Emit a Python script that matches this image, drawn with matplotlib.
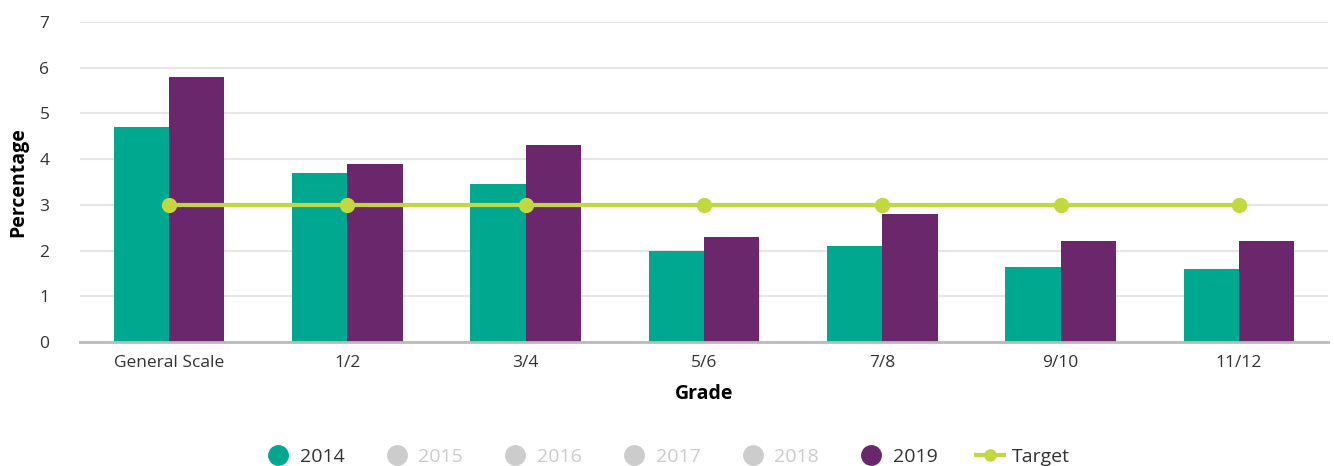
import matplotlib.pyplot as plt
import numpy as np
from matplotlib.lines import Line2D

# data
grades = ['General Scale', '1/2', '3/4', '5/6', '7/8', '9/10', '11/12']
pct_2014 = [4.7, 3.7, 3.45, 2.0, 2.1, 1.65, 1.6]
pct_2019 = [5.8, 3.9, 4.3, 2.3, 2.8, 2.2, 2.2]
target = [3, 3, 3, 3, 3, 3, 3]
legend_years = ['2014', '2015', '2016', '2017', '2018', '2019']

teal = '#00A88F'
purple = '#6B276B'
lime = '#C2D83F'
grey = '#CCCCCC'

plt.rcParams['font.family'] = ['Open Sans', 'DejaVu Sans']

fig = plt.figure(figsize=(13.34, 4.66), dpi=100)
ax = fig.add_axes([0.06, 0.266, 0.9355, 0.687])

x = np.arange(len(grades))
w = 0.31
ax.bar(x - w / 2, pct_2014, width=w, color=teal, zorder=2)
ax.bar(x + w / 2, pct_2019, width=w, color=purple, zorder=2)
ax.plot(x, target, color=lime, lw=3, marker='o', ms=10, zorder=3)

ax.set_xlim(-0.5, len(grades) - 0.5)
ax.set_ylim(0, 7)
ax.set_yticks(range(8))
ax.set_xticks(x)
ax.set_xticklabels(grades)
ax.tick_params(axis='both', length=0, labelsize=12.5, colors='#333333', pad=9)
ax.tick_params(axis='y', pad=22)
ax.grid(axis='y', color='#E6E6E6', lw=1.5, zorder=0)
for s in ['top', 'right', 'left']:
    ax.spines[s].set_visible(False)
ax.spines['bottom'].set_color('#BBBBBB')
ax.spines['bottom'].set_linewidth(2)

ax.set_ylabel('Percentage', fontsize=14, fontweight='bold', labelpad=8)
ax.set_xlabel('Grade', fontsize=14, fontweight='bold', labelpad=10)

# legend: only 2014 and 2019 are shown, other years greyed out
year_colors = {'2014': teal, '2019': purple}
handles = []
for yr in legend_years:
    handles.append(Line2D([], [], ls='', marker='o', ms=14,
                          color=year_colors.get(yr, grey)))
handles.append(Line2D([], [], color=lime, lw=3, marker='o', ms=8))
labels = legend_years + ['Target']
leg = fig.legend(handles, labels, loc='center', bbox_to_anchor=(0.5, 0.02),
                 ncol=7, frameon=False, fontsize=14, handlelength=1.4,
                 handletextpad=0.4, columnspacing=2.0)
for t, lab in zip(leg.get_texts(), labels):
    t.set_color('#333333' if lab in ('2014', '2019', 'Target') else grey)

fig.savefig('out.png', dpi=100)
